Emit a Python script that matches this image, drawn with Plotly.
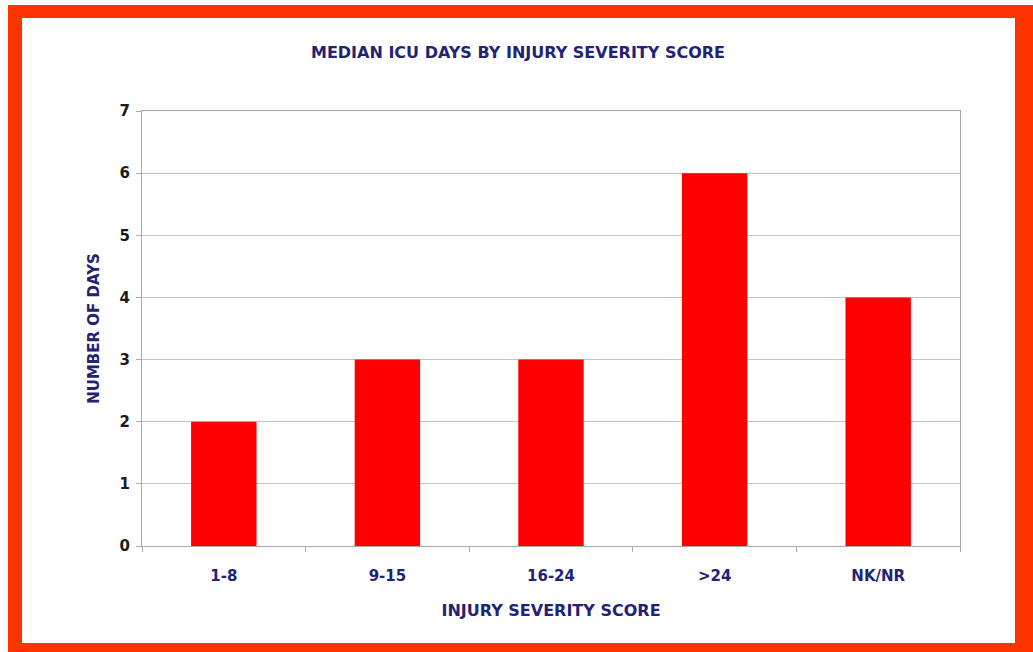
import plotly.graph_objects as go

# Median ICU days per injury severity score band
categories = ["1-8", "9-15", "16-24", ">24", "NK/NR"]
median_days = [2, 3, 3, 6, 4]
y_ticks = [0, 1, 2, 3, 4, 5, 6, 7]

W, H = 1033, 652
L, R, T, B = 142, 73, 111, 106
PW, PH = W - L - R, H - T - B

def px(x):
    return (x - L) / PW

def py(y):
    return (H - B - y) / PH

NAVY = "#232376"
FRAME = "#ff3300"
FONT = "DejaVu Sans"

fig = go.Figure(
    go.Bar(
        x=categories,
        y=median_days,
        marker=dict(color="#ff0000", line=dict(width=0)),
        width=0.4,
    )
)

# Red outer frame drawn as four bands around the chart
bands = [
    (8, 5, 1033, 18),     # top
    (8, 643, 1033, 652),  # bottom
    (8, 5, 22, 652),      # left
    (1015, 5, 1033, 652), # right
]
shapes = [
    dict(type="rect", xref="paper", yref="paper",
         x0=px(x0), x1=px(x1), y0=py(y1), y1=py(y0),
         fillcolor=FRAME, line=dict(width=0), layer="above")
    for x0, y0, x1, y1 in bands
]

fig.update_layout(
    width=W, height=H,
    margin=dict(l=L, r=R, t=T, b=B),
    paper_bgcolor="white",
    plot_bgcolor="white",
    showlegend=False,
    shapes=shapes,
    font=dict(family=FONT, color=NAVY),
    title=dict(
        text="<b>MEDIAN ICU DAYS BY INJURY SEVERITY SCORE</b>",
        xref="container", x=518 / W, xanchor="center",
        yref="container", y=1 - 52 / H, yanchor="middle",
        font=dict(size=16, color=NAVY),
    ),
    xaxis=dict(
        showgrid=False,
        showline=True, linecolor="#a8a8a8", linewidth=1, mirror=True,
        ticks="outside", ticklen=5, tickcolor="#a8a8a8",
        tickson="boundaries",
        ticklabelstandoff=16,
        tickfont=dict(size=15, color=NAVY),
        tickprefix="<b>", ticksuffix="</b>",
        title=dict(text="<b>INJURY SEVERITY SCORE</b>", standoff=20,
                   font=dict(size=16, color=NAVY)),
    ),
    yaxis=dict(
        range=[0, 7],
        tickvals=y_ticks,
        ticktext=[f"<b>{v}</b>" for v in y_ticks],
        showgrid=True, gridcolor="#c4c4c4", gridwidth=1,
        showline=True, linecolor="#a8a8a8", linewidth=1, mirror=True,
        ticks="outside", ticklen=5, tickcolor="#a8a8a8",
        ticklabelstandoff=3,
        tickfont=dict(size=15, color="#1a1a1a"),
        zeroline=False,
        title=dict(text="<b>NUMBER OF DAYS</b>", standoff=16,
                   font=dict(size=15, color=NAVY)),
    ),
    bargap=0.6,
)

fig.write_html("out.html")
